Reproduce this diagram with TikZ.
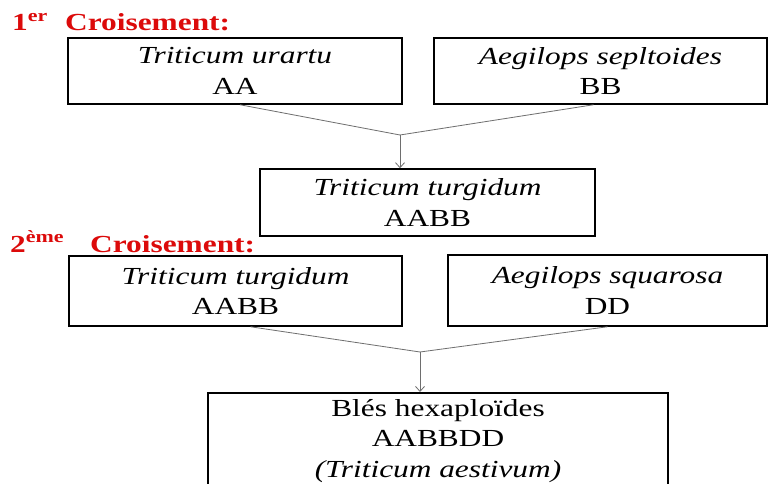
\documentclass[tikz,border=0pt]{standalone}
\usepackage{fontspec}
\setmainfont[FakeStretch=1.28]{Liberation Serif}
\usetikzlibrary{arrows.meta,positioning}
\definecolor{titre}{HTML}{DC0A0A}
\definecolor{trait}{HTML}{6E6E6E}
\tikzset{
  espece/.style={draw=black,line width=1.5pt,align=center,inner sep=0pt,
    font=\fontsize{24.5}{30.5}\selectfont},
  croisement/.style={font=\fontsize{24.5}{28}\selectfont\bfseries,titre,inner sep=0pt,anchor=base west},
  lien/.style={trait,line width=0.8pt},
  fleche/.style={trait,line width=0.8pt,-{Straight Barb[length=5pt,width=9pt]}}
}

\begin{document}
\begin{tikzpicture}[x=1pt,y=-1pt]
  \clip (0,0) rectangle (769,484);
  \fill[white] (0,0) rectangle (769,484);

  % 1er croisement
  \node[croisement] (num1) at (12,31) {1\textsuperscript{er}};
  \node[croisement] (titre1) at (65,31) {Croisement:};
  \node[espece,minimum width=334pt,minimum height=66pt] (urartu) at (235,71)
    {\textit{Triticum urartu}\\AA};
  \node[espece,minimum width=333pt,minimum height=66pt] (speltoides) at (600.5,71)
    {\textit{Aegilops sepltoides}\\BB};
  \node[espece,minimum width=335pt,minimum height=67pt] (turgidum) at (427.5,202.5)
    {\textit{Triticum turgidum}\\AABB};
  \coordinate (j1) at (400,135);
  \draw[lien] ([xshift=5pt]urartu.south) -- (j1);
  \draw[lien] ([xshift=-7pt]speltoides.south) -- (j1);
  \draw[fleche] (j1) -- (j1 |- turgidum.north);

  % 2eme croisement
  \node[croisement] (num2) at (10,252) {2\textsuperscript{ème}};
  \node[croisement] (titre2) at (90,252) {Croisement:};
  \node[espece,minimum width=333pt,minimum height=70pt] (turgidum2) at (235.5,291)
    {\textit{Triticum turgidum}\\AABB};
  \node[espece,minimum width=319pt,minimum height=71pt] (squarrosa) at (607.5,290.5)
    {\textit{Aegilops squarosa}\\DD};
  \node[espece,minimum width=460pt,minimum height=96pt,anchor=north] (hexa) at (438,392)
    {Blés hexaploïdes\\AABBDD\\\textit{(Triticum aestivum)}};
  \coordinate (j2) at (420,352);
  \draw[lien] ([xshift=15pt]turgidum2.south) -- (j2);
  \draw[lien] (squarrosa.south) -- (j2);
  \draw[fleche] (j2) -- (j2 |- hexa.north);
\end{tikzpicture}
\end{document}
